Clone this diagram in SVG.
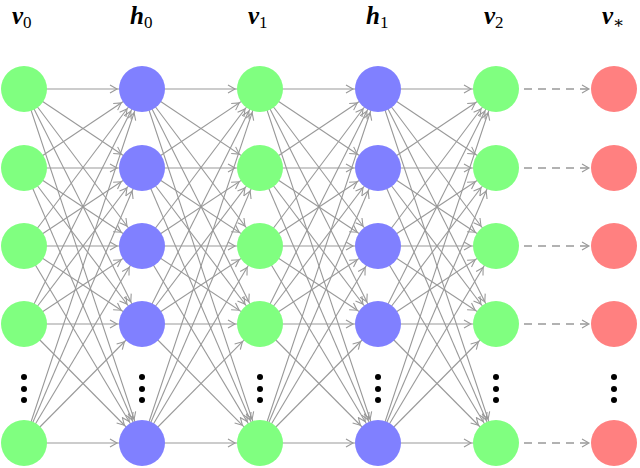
<svg xmlns="http://www.w3.org/2000/svg" width="640" height="468" viewBox="0 0 640 468">
<style>
.e{stroke:#999;stroke-width:1.1;fill:none;marker-end:url(#a)}
.d{stroke:#999;stroke-width:1.3;fill:none;stroke-dasharray:8,6;marker-end:url(#a)}
.g{fill:#80ff80}.b{fill:#8080ff}.r{fill:#ff8080}
.t{font-family:"Liberation Serif","DejaVu Serif",serif;font-style:italic;font-weight:bold;font-size:25px;fill:#000}
.s{font-family:"Liberation Serif","DejaVu Serif",serif;font-style:normal;font-weight:normal;font-size:17px}
</style>
<defs>
<marker id="a" markerUnits="userSpaceOnUse" markerWidth="10" markerHeight="10" refX="0" refY="0" orient="auto" overflow="visible">
<path d="M-32,-4 L-25,0 L-32,4" stroke="#999" stroke-width="1.1" fill="none"/>
</marker>
<circle id="n" r="23"/>
<g id="fan">
<line class="e" x1="0" y1="89" x2="118" y2="89"/><line class="e" x1="0" y1="89" x2="118" y2="168"/><line class="e" x1="0" y1="89" x2="118" y2="246"/><line class="e" x1="0" y1="89" x2="118" y2="324"/><line class="e" x1="0" y1="89" x2="118" y2="443"/>
<line class="e" x1="0" y1="168" x2="118" y2="89"/><line class="e" x1="0" y1="168" x2="118" y2="168"/><line class="e" x1="0" y1="168" x2="118" y2="246"/><line class="e" x1="0" y1="168" x2="118" y2="324"/><line class="e" x1="0" y1="168" x2="118" y2="443"/>
<line class="e" x1="0" y1="246" x2="118" y2="89"/><line class="e" x1="0" y1="246" x2="118" y2="168"/><line class="e" x1="0" y1="246" x2="118" y2="246"/><line class="e" x1="0" y1="246" x2="118" y2="324"/><line class="e" x1="0" y1="246" x2="118" y2="443"/>
<line class="e" x1="0" y1="324" x2="118" y2="89"/><line class="e" x1="0" y1="324" x2="118" y2="168"/><line class="e" x1="0" y1="324" x2="118" y2="246"/><line class="e" x1="0" y1="324" x2="118" y2="324"/><line class="e" x1="0" y1="324" x2="118" y2="443"/>
<line class="e" x1="0" y1="443" x2="118" y2="89"/><line class="e" x1="0" y1="443" x2="118" y2="168"/><line class="e" x1="0" y1="443" x2="118" y2="246"/><line class="e" x1="0" y1="443" x2="118" y2="324"/><line class="e" x1="0" y1="443" x2="118" y2="443"/>
</g>
</defs>
<g id="connectors">
<use href="#fan" x="24"/><use href="#fan" x="142"/><use href="#fan" x="260"/><use href="#fan" x="378"/>
<line class="d" x1="496" y1="89" x2="614" y2="89"/><line class="d" x1="496" y1="168" x2="614" y2="168"/><line class="d" x1="496" y1="246" x2="614" y2="246"/><line class="d" x1="496" y1="324" x2="614" y2="324"/><line class="d" x1="496" y1="443" x2="614" y2="443"/>
</g>
<g id="v0" class="g"><use href="#n" x="24" y="89"/><use href="#n" x="24" y="168"/><use href="#n" x="24" y="246"/><use href="#n" x="24" y="324"/><use href="#n" x="24" y="443"/></g>
<g id="h0" class="b"><use href="#n" x="142" y="89"/><use href="#n" x="142" y="168"/><use href="#n" x="142" y="246"/><use href="#n" x="142" y="324"/><use href="#n" x="142" y="443"/></g>
<g id="v1" class="g"><use href="#n" x="260" y="89"/><use href="#n" x="260" y="168"/><use href="#n" x="260" y="246"/><use href="#n" x="260" y="324"/><use href="#n" x="260" y="443"/></g>
<g id="h1" class="b"><use href="#n" x="378" y="89"/><use href="#n" x="378" y="168"/><use href="#n" x="378" y="246"/><use href="#n" x="378" y="324"/><use href="#n" x="378" y="443"/></g>
<g id="v2" class="g"><use href="#n" x="496" y="89"/><use href="#n" x="496" y="168"/><use href="#n" x="496" y="246"/><use href="#n" x="496" y="324"/><use href="#n" x="496" y="443"/></g>
<g id="vstar" class="r"><use href="#n" x="614" y="89"/><use href="#n" x="614" y="168"/><use href="#n" x="614" y="246"/><use href="#n" x="614" y="324"/><use href="#n" x="614" y="443"/></g>
<g id="dots" fill="#000">
<circle cx="24" cy="377" r="3"/><circle cx="24" cy="389" r="3"/><circle cx="24" cy="400" r="3"/>
<circle cx="142" cy="377" r="3"/><circle cx="142" cy="389" r="3"/><circle cx="142" cy="400" r="3"/>
<circle cx="260" cy="377" r="3"/><circle cx="260" cy="389" r="3"/><circle cx="260" cy="400" r="3"/>
<circle cx="378" cy="377" r="3"/><circle cx="378" cy="389" r="3"/><circle cx="378" cy="400" r="3"/>
<circle cx="496" cy="377" r="3"/><circle cx="496" cy="389" r="3"/><circle cx="496" cy="400" r="3"/>
<circle cx="614" cy="377" r="3"/><circle cx="614" cy="389" r="3"/><circle cx="614" cy="400" r="3"/>
</g>
<g id="labels">
<text class="t" x="12" y="24">v<tspan class="s" dy="4">0</tspan></text>
<text class="t" x="130" y="24">h<tspan class="s" dy="4">0</tspan></text>
<text class="t" x="248" y="24">v<tspan class="s" dy="4">1</tspan></text>
<text class="t" x="366" y="24">h<tspan class="s" dy="4">1</tspan></text>
<text class="t" x="484" y="24">v<tspan class="s" dy="4">2</tspan></text>
<text class="t" x="602" y="24">v<tspan class="s" dy="4">∗</tspan></text>
</g>
</svg>
